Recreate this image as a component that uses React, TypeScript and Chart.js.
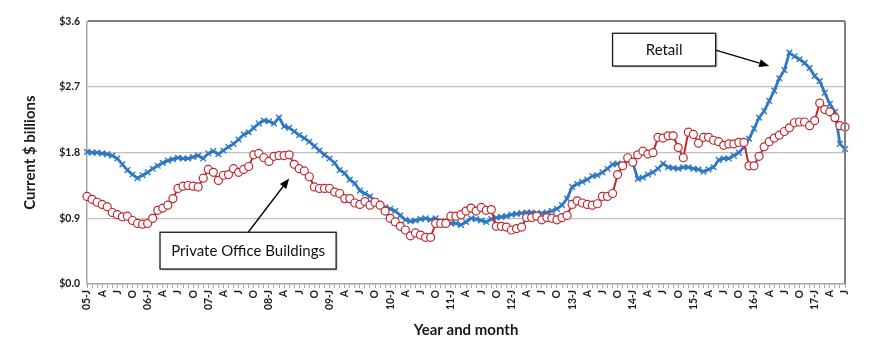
import React, { useEffect, useRef } from "react";
import { Chart, registerables } from "chart.js";

Chart.register(...registerables);

// ---- Data (Jan 2005 .. Jul 2017, monthly) ----
const startYear = 2005;
const monthLetters = ["J", "F", "M", "A", "M", "J", "J", "A", "S", "O", "N", "D"];
const shownMonths = [0, 3, 6, 9];

const retail = [
  1.81, 1.80, 1.80, 1.79, 1.78, 1.76, 1.72, 1.64, 1.56, 1.50, 1.45, 1.49,
  1.53, 1.58, 1.62, 1.66, 1.69, 1.71, 1.73, 1.72, 1.72, 1.74, 1.76, 1.72,
  1.79, 1.82, 1.78, 1.83, 1.88, 1.92, 1.98, 2.05, 2.08, 2.14, 2.20, 2.24,
  2.23, 2.20, 2.28, 2.16, 2.14, 2.09, 2.04, 2.00, 1.95, 1.89, 1.83, 1.77,
  1.72, 1.66, 1.56, 1.52, 1.43, 1.38, 1.28, 1.24, 1.20, 1.14, 1.08, 1.05,
  1.03, 1.00, 0.94, 0.88, 0.86, 0.87, 0.89, 0.90, 0.88, 0.90, 0.86, 0.85,
  0.83, 0.83, 0.81, 0.85, 0.90, 0.89, 0.87, 0.85, 0.89, 0.91, 0.92, 0.93,
  0.95, 0.96, 0.97, 0.98, 0.98, 0.97, 0.97, 0.98, 1.00, 1.03, 1.08, 1.17,
  1.33, 1.37, 1.40, 1.43, 1.48, 1.49, 1.53, 1.58, 1.64, 1.65, 1.61, 1.69,
  1.66, 1.44, 1.46, 1.50, 1.53, 1.58, 1.65, 1.60, 1.59, 1.58, 1.60, 1.60,
  1.58, 1.57, 1.54, 1.57, 1.60, 1.70, 1.72, 1.72, 1.76, 1.80, 1.88, 1.99,
  2.13, 2.28, 2.37, 2.51, 2.65, 2.82, 2.93, 3.17, 3.12, 3.08, 3.03, 2.96,
  2.85, 2.78, 2.62, 2.47, 2.36, 1.92, 1.85,
];

const office = [
  1.20, 1.16, 1.12, 1.09, 1.06, 0.98, 0.95, 0.92, 0.93, 0.87, 0.83, 0.82,
  0.83, 0.90, 1.01, 1.04, 1.08, 1.17, 1.31, 1.34, 1.35, 1.34, 1.33, 1.45,
  1.57, 1.53, 1.42, 1.49, 1.50, 1.58, 1.53, 1.57, 1.61, 1.77, 1.79, 1.73,
  1.68, 1.75, 1.76, 1.76, 1.77, 1.64, 1.58, 1.55, 1.47, 1.33, 1.31, 1.31,
  1.31, 1.26, 1.24, 1.17, 1.17, 1.11, 1.09, 1.13, 1.08, 1.12, 1.08, 1.00,
  0.90, 0.85, 0.79, 0.74, 0.66, 0.70, 0.67, 0.64, 0.64, 0.83, 0.83, 0.83,
  0.93, 0.93, 0.95, 1.00, 1.04, 1.00, 1.05, 1.01, 1.02, 0.79, 0.79, 0.78,
  0.74, 0.76, 0.78, 0.91, 0.91, 0.93, 0.88, 0.91, 0.90, 0.88, 0.91, 0.94,
  1.09, 1.14, 1.11, 1.09, 1.08, 1.10, 1.20, 1.20, 1.24, 1.50, 1.62, 1.73,
  1.67, 1.77, 1.82, 1.78, 1.80, 2.01, 2.00, 2.03, 2.03, 1.87, 1.73, 2.08,
  2.05, 1.93, 2.01, 2.01, 1.97, 1.95, 1.90, 1.92, 1.92, 1.94, 1.94, 1.62,
  1.62, 1.75, 1.88, 1.95, 2.00, 2.04, 2.09, 2.14, 2.21, 2.22, 2.22, 2.17,
  2.24, 2.48, 2.39, 2.36, 2.28, 2.17, 2.15,
];

const yTicks = [0, 0.9, 1.8, 2.7, 3.6];

const labels = retail.map((_, i) => {
  const m = i % 12;
  const yy = String((startYear + Math.floor(i / 12)) % 100).padStart(2, "0");
  if (!shownMonths.includes(m)) return "";
  return m === 0 ? `${yy}-${monthLetters[m]}` : monthLetters[m];
});

// ---- Annotations (placed in data units: category index, value) ----
const callouts = [
  { text: "Retail", box: [104.0, 3.436, 124.4, 2.987], from: [124.4, 3.205], to: [135.0, 2.987] },
  { text: "Private Office Buildings", box: [14.45, 0.709, 49.3, 0.205], from: [31.9, 0.709], to: [40.0, 1.445] },
];

const FONT = "Lato, 'Open Sans', sans-serif";

const decorPlugin = {
  id: "decor",
  afterDatasetsDraw(chart: any) {
    const { ctx, chartArea, scales } = chart;
    const xs = scales.x;
    const ys = scales.y;
    ctx.save();
    ctx.strokeStyle = "#7f7f7f";
    ctx.lineWidth = 2;
    ctx.beginPath();
    ctx.moveTo(chartArea.right, chartArea.top);
    ctx.lineTo(chartArea.right, chartArea.bottom);
    ctx.stroke();

    for (const c of callouts) {
      const x0 = xs.getPixelForValue(c.box[0]);
      const y0 = ys.getPixelForValue(c.box[1]);
      const x1 = xs.getPixelForValue(c.box[2]);
      const y1 = ys.getPixelForValue(c.box[3]);
      const ax0 = xs.getPixelForValue(c.from[0]);
      const ay0 = ys.getPixelForValue(c.from[1]);
      const ax1 = xs.getPixelForValue(c.to[0]);
      const ay1 = ys.getPixelForValue(c.to[1]);
      const ang = Math.atan2(ay1 - ay0, ax1 - ax0);
      const hl = 10, hw = 4;
      const bx = ax1 - hl * Math.cos(ang);
      const by = ay1 - hl * Math.sin(ang);
      ctx.strokeStyle = "#000";
      ctx.lineWidth = 1.3;
      ctx.beginPath();
      ctx.moveTo(ax0, ay0);
      ctx.lineTo(bx, by);
      ctx.stroke();
      ctx.fillStyle = "#000";
      ctx.beginPath();
      ctx.moveTo(ax1, ay1);
      ctx.lineTo(bx + hw * Math.sin(ang), by - hw * Math.cos(ang));
      ctx.lineTo(bx - hw * Math.sin(ang), by + hw * Math.cos(ang));
      ctx.closePath();
      ctx.fill();
      ctx.shadowColor = "rgba(0,0,0,0.35)";
      ctx.shadowBlur = 2;
      ctx.shadowOffsetX = 1;
      ctx.shadowOffsetY = 1;
      ctx.fillStyle = "#fff";
      ctx.fillRect(x0, y0, x1 - x0, y1 - y0);
      ctx.shadowColor = "transparent";
      ctx.strokeStyle = "#1a1a1a";
      ctx.lineWidth = 1.3;
      ctx.strokeRect(x0, y0, x1 - x0, y1 - y0);
      ctx.fillStyle = "#111";
      ctx.font = `15px ${FONT}`;
      ctx.textAlign = "center";
      ctx.textBaseline = "middle";
      ctx.fillText(c.text, (x0 + x1) / 2, (y0 + y1) / 2 + 1);
    }
    ctx.restore();
  },
};

export default function App() {
  const ref = useRef<HTMLCanvasElement | null>(null);
  useEffect(() => {
    if (!ref.current) return;
    const chart = new Chart(ref.current, {
      type: "line",
      data: {
        labels,
        datasets: [
          {
            label: "Private Office Buildings",
            data: office,
            borderColor: "#c0282d",
            borderWidth: 2,
            pointStyle: "circle",
            pointRadius: 4,
            pointBorderWidth: 1.2,
            pointBackgroundColor: "#ffffff",
            pointBorderColor: "#c0282d",
            tension: 0,
          },
          {
            label: "Retail",
            data: retail,
            borderColor: "#2f78c4",
            borderWidth: 2.8,
            pointStyle: "crossRot",
            pointRadius: 4,
            pointBorderWidth: 1.4,
            pointBackgroundColor: "#2f78c4",
            pointBorderColor: "#2f78c4",
            tension: 0,
          },
        ],
      },
      options: {
        animation: false,
        responsive: false,
        layout: { padding: { top: 12, right: 17, left: 0, bottom: 0 } },
        plugins: { legend: { display: false }, tooltip: { enabled: false } },
        scales: {
          x: {
            type: "category",
            offset: false,
            grid: {
              drawOnChartArea: false,
              drawTicks: true,
              tickLength: 4,
              color: "#a6a6a6",
              lineWidth: 1,
            },
            border: { color: "#a6a6a6", width: 1.5 },
            ticks: {
              autoSkip: false,
              maxRotation: 90,
              minRotation: 90,
              padding: 2,
              color: "#1a1a1a",
              font: { family: FONT, size: 10.5, weight: "bold" },
            },
            title: {
              display: true,
              text: "Year and month",
              color: "#1a1a1a",
              font: { family: FONT, size: 15, weight: "bold" },
              padding: { top: 0, bottom: 9 },
            },
            afterFit: (s: any) => {
              s.height = 64;
            },
          },
          y: {
            min: 0,
            max: 3.6,
            afterBuildTicks: (s: any) => {
              s.ticks = yTicks.map((v) => ({ value: v }));
            },
            grid: {
              drawTicks: false,
              color: (c: any) => (c.tick && c.tick.value === 3.6 ? "#7f7f7f" : "#bfbfbf"),
              lineWidth: (c: any) => (c.tick && c.tick.value === 3.6 ? 2 : 1.2),
            },
            border: { color: "#a6a6a6", width: 1.5 },
            ticks: {
              padding: 7,
              color: "#1a1a1a",
              font: { family: FONT, size: 10.5, weight: "bold" },
              callback: (v: any) => "$" + Number(v).toFixed(1),
            },
            title: {
              display: true,
              text: "Current $ billions",
              color: "#1a1a1a",
              font: { family: FONT, size: 15, weight: "bold" },
              padding: { top: 13, bottom: 0 },
            },
            afterFit: (s: any) => {
              s.width = 79;
            },
          },
        },
      },
      plugins: [decorPlugin],
    });
    return () => chart.destroy();
  }, []);
  return (
    <div style={{ width: 854, height: 340 }}>
      <canvas ref={ref} width={854} height={340} style={{ width: 854, height: 340 }} />
    </div>
  );
}
